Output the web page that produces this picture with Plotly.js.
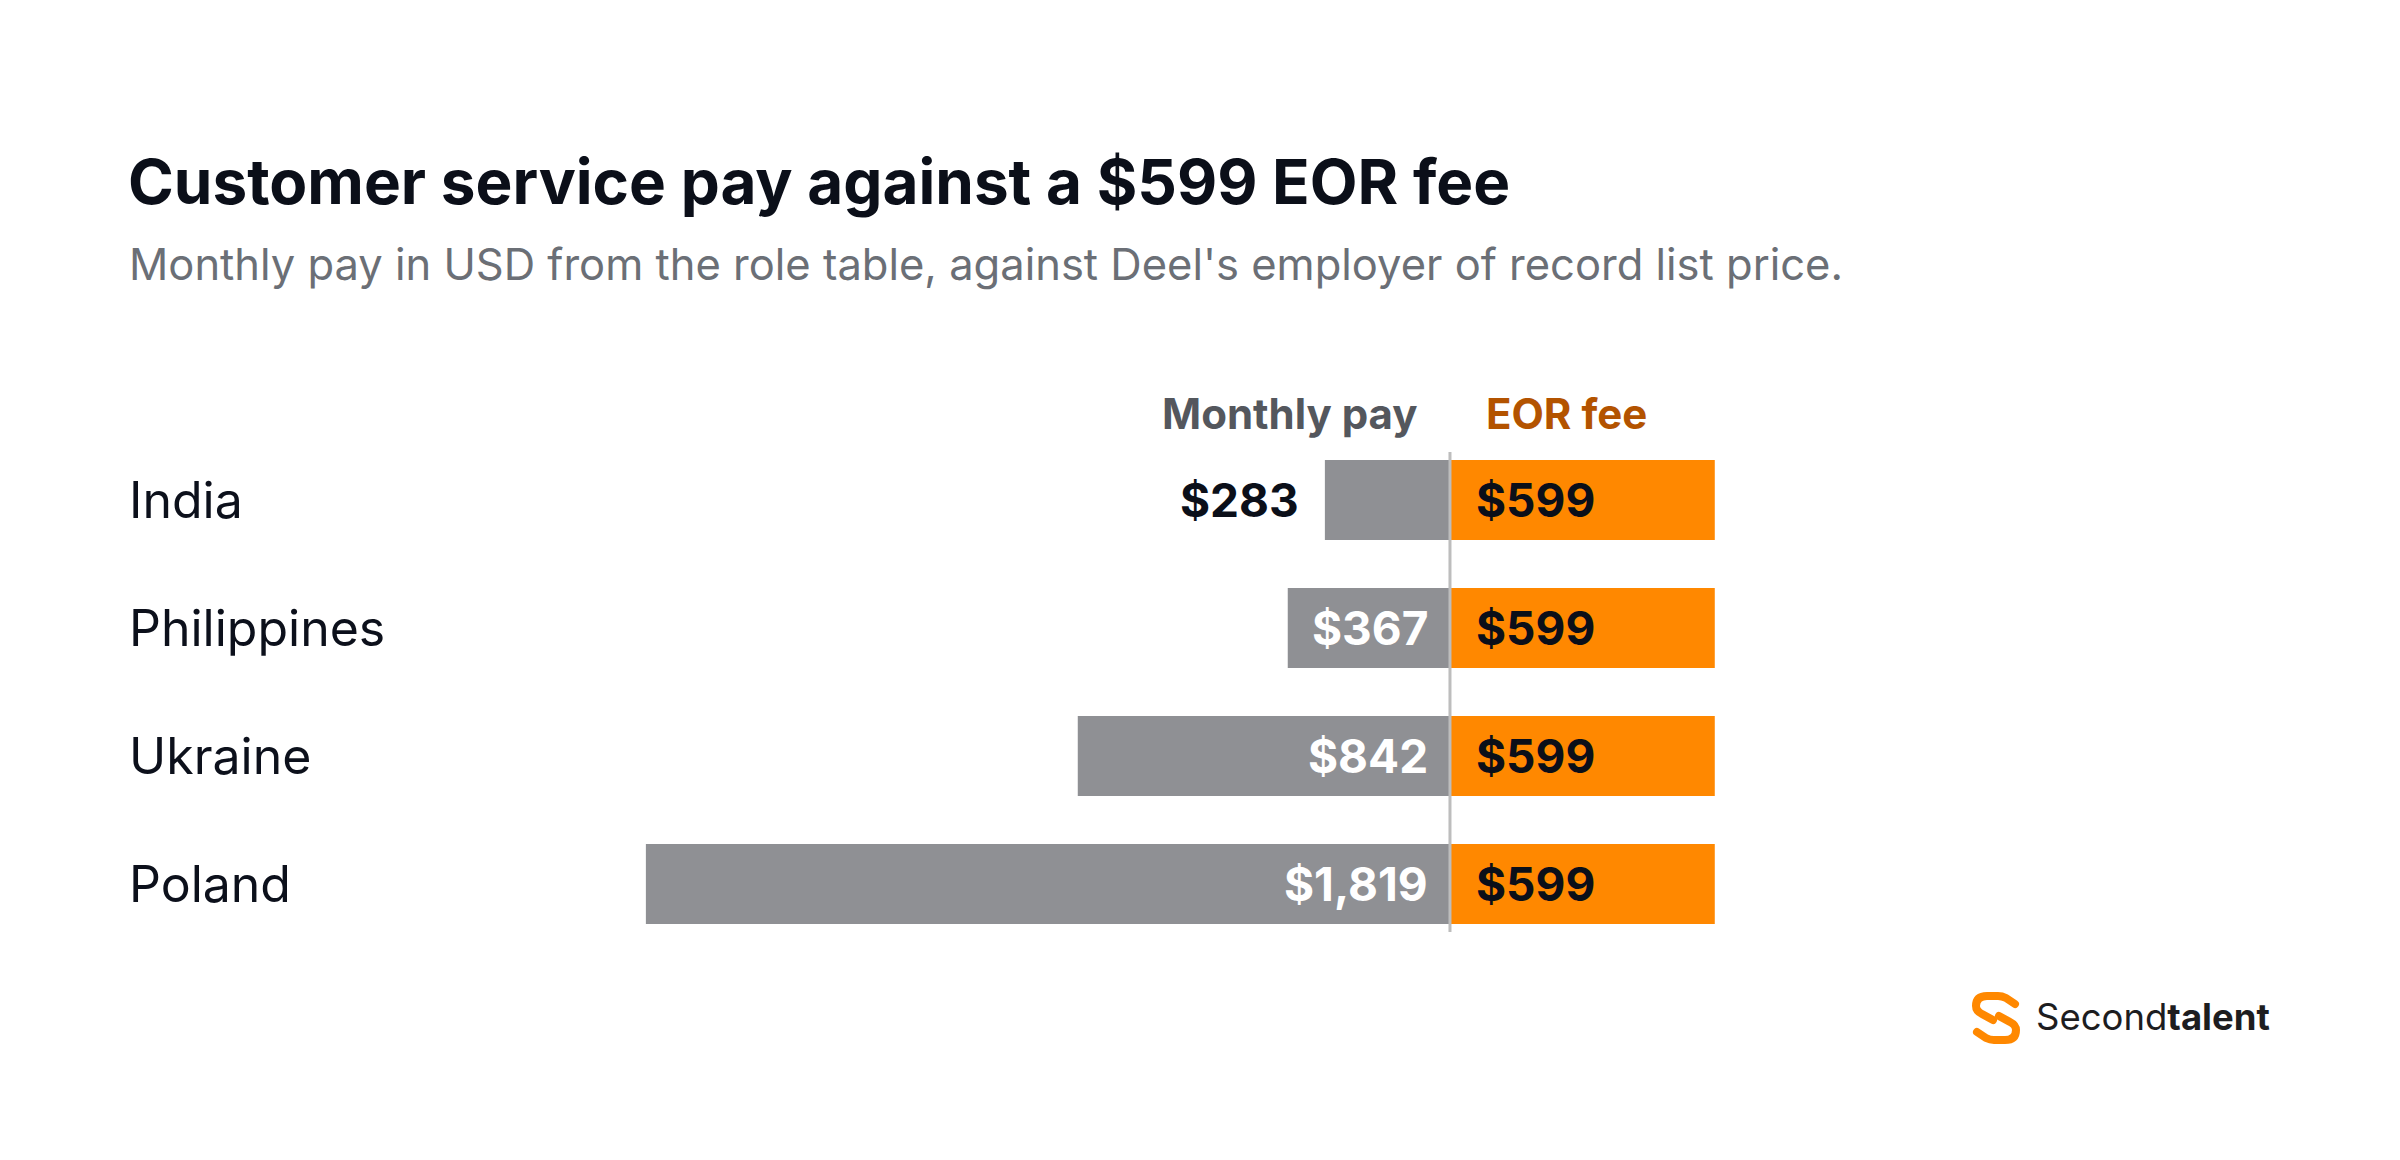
<!DOCTYPE html>
<html>
<head>
<meta charset="utf-8">
<script src="https://cdn.plot.ly/plotly-3.0.1.min.js"></script>
<style>
  html, body { margin: 0; padding: 0; background: #ffffff; }
  #chart { width: 2400px; height: 1160px; }
</style>
</head>
<body>
<div id="chart"></div>
<script>
// ---- data ----
const countries = ['India', 'Philippines', 'Ukraine', 'Poland'];
const monthlyPay = [283, 367, 842, 1819];
const eorFee = [599, 599, 599, 599];
const titleText = 'Customer service pay against a $599 EOR fee';
const subtitleText = "Monthly pay in USD from the role table, against Deel's employer of record list price.";
const payHeader = 'Monthly pay';
const eorHeader = 'EOR fee';

// ---- layout constants ----
const W = 2400, H = 1160;
const L = 130, R = 130, T = 436, B = 212;
const plotH = H - T - B;
const pyToPaper = py => (H - B - py) / plotH;
const pxToPaper = px => (px - L) / (W - L - R);
const FONT = 'Inter, "Noto Sans", sans-serif';
const fmt = v => '$' + v.toLocaleString('en-US');

const traces = [
  {
    type: 'bar', orientation: 'h', name: payHeader,
    y: countries, x: monthlyPay.map(v => -v),
    marker: { color: '#8f9094' },
    hoverinfo: 'skip'
  },
  {
    type: 'bar', orientation: 'h', name: eorHeader,
    y: countries, x: eorFee,
    marker: { color: '#ff8800' },
    hoverinfo: 'skip'
  }
];

const annotations = [];
// country labels
countries.forEach(c => annotations.push({
  xref: 'paper', x: 0, xanchor: 'left', xshift: -3, yref: 'y', y: c, yanchor: 'middle',
  text: c, showarrow: false, font: { family: FONT, size: 50, color: '#0c101b' }
}));
// pay values
monthlyPay.forEach((v, i) => {
  const inside = v > 300;
  annotations.push({
    xref: 'x', x: inside ? 0 : -v, xanchor: 'right', xshift: inside ? -20 : -24,
    yref: 'y', y: countries[i], yanchor: 'middle',
    text: '<b>' + fmt(v) + '</b>', showarrow: false,
    font: { family: FONT, size: 46, color: inside ? '#ffffff' : '#0b0f19' }
  });
});
// eor values
eorFee.forEach((v, i) => annotations.push({
  xref: 'x', x: 0, xanchor: 'left', xshift: 24,
  yref: 'y', y: countries[i], yanchor: 'middle',
  text: '<b>' + fmt(v) + '</b>', showarrow: false,
  font: { family: FONT, size: 46, color: '#0b0f19' }
}));
// headers
annotations.push({
  xref: 'x', x: 0, xanchor: 'right', xshift: -30,
  yref: 'paper', y: pyToPaper(413), yanchor: 'middle',
  text: '<b>' + payHeader + '</b>', showarrow: false,
  font: { family: FONT, size: 42, color: '#54575d' }
});
annotations.push({
  xref: 'x', x: 0, xanchor: 'left', xshift: 34,
  yref: 'paper', y: pyToPaper(413), yanchor: 'middle',
  text: '<b>' + eorHeader + '</b>', showarrow: false,
  font: { family: FONT, size: 42, color: '#b35300' }
});
// subtitle
annotations.push({
  xref: 'paper', x: 0, xanchor: 'left', xshift: -3,
  yref: 'paper', y: pyToPaper(264), yanchor: 'middle',
  text: subtitleText, showarrow: false,
  font: { family: FONT, size: 43.5, color: '#6b6f76' }
});
// logo text
annotations.push({
  xref: 'paper', x: pxToPaper(2034), xanchor: 'left',
  yref: 'paper', y: pyToPaper(1017), yanchor: 'middle',
  text: 'Second<b>talent</b>', showarrow: false,
  font: { family: FONT, size: 36.5, color: '#1d1d1f' }
});

const logoSvg = '<svg xmlns="http://www.w3.org/2000/svg" width="50" height="52" viewBox="0 0 50 52">' +
  '<g fill="none" stroke="#ff8800" stroke-width="8" stroke-linecap="round" stroke-linejoin="round">' +
  '<path d="M44 12 L35 6 Q31 4 27 4 L16 4 Q5 4 5 14 Q5 19 11 22 L22 28"/>' +
  '<path d="M6 40 L15 46 Q19 48 23 48 L34 48 Q45 48 45 38 Q45 33 39 30 L28 24"/>' +
  '</g></svg>';

const layout = {
  width: W, height: H,
  paper_bgcolor: '#ffffff', plot_bgcolor: '#ffffff',
  margin: { l: L, r: R, t: T, b: B, pad: 0 },
  showlegend: false,
  barmode: 'relative',
  bargap: 0.375,
  title: {
    text: '<b>' + titleText + '</b>',
    xref: 'container', x: 128 / W, xanchor: 'left',
    yref: 'container', y: 1 - 161 / H, yanchor: 'top',
    font: { family: FONT, size: 62, color: '#0b0f19' }
  },
  xaxis: {
    range: [-2986, 1855], visible: false, fixedrange: true, zeroline: false, showgrid: false
  },
  yaxis: {
    type: 'category', range: [3.5, -0.5], visible: false, fixedrange: true, showgrid: false
  },
  shapes: [{
    type: 'line', xref: 'x', x0: 0, x1: 0, yref: 'paper',
    y0: pyToPaper(932), y1: pyToPaper(452),
    line: { color: '#bdbdbd', width: 3 }, layer: 'above'
  }],
  annotations: annotations,
  images: [{
    source: 'data:image/svg+xml;charset=utf-8,' + encodeURIComponent(logoSvg),
    xref: 'paper', yref: 'paper',
    x: pxToPaper(1971), y: pyToPaper(992),
    sizex: 50 / (W - L - R), sizey: 52 / plotH,
    xanchor: 'left', yanchor: 'top', sizing: 'contain', layer: 'above'
  }]
};

Plotly.newPlot('chart', traces, layout, { displayModeBar: false, staticPlot: true });
</script>
</body>
</html>
